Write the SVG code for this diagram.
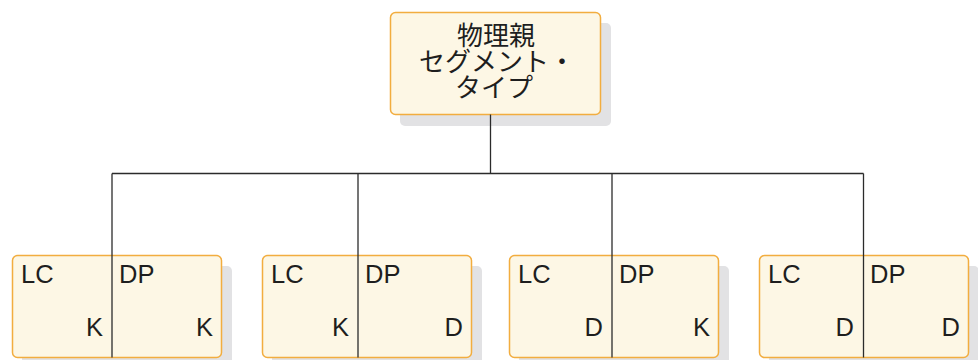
<svg xmlns="http://www.w3.org/2000/svg" width="978" height="360" viewBox="0 0 978 360">
<style>
.shadow{fill:#e2e2e4;}
.box{fill:#fdf7e5;stroke:#f2ad3f;stroke-width:1.5;}
.conn{stroke:#2b2b2b;stroke-width:1.3;fill:none;}
.t{font-family:"Liberation Sans",Arial,sans-serif;font-size:25.5px;fill:#1e1e1e;}
.j{font-family:"Noto Sans CJK JP","Liberation Sans",sans-serif;font-size:26px;fill:#1e1e1e;text-anchor:middle;}
.e{text-anchor:end;}
</style>
<rect width="978" height="360" fill="#ffffff"/>
<g id="parent">
<rect class="shadow" x="400" y="23" width="211" height="103" rx="5"/>
<rect class="box" x="390.5" y="12.5" width="210" height="102" rx="5"/>
<text class="j" x="496" y="45">物理親</text>
<text class="j" x="497" y="71">セグメント・</text>
<text class="j" x="494" y="97">タイプ</text>
</g>
<g id="child1">
<rect class="shadow" x="22" y="266" width="210" height="103" rx="5"/>
<rect class="box" x="12.5" y="255.5" width="209" height="102" rx="5"/>
<text class="t" x="21" y="282.5">LC</text>
<text class="t" x="119" y="282.5">DP</text>
<text class="t e" x="103" y="335.5">K</text>
<text class="t e" x="213" y="335.5">K</text>
</g>
<g id="child2">
<rect class="shadow" x="272" y="266" width="210" height="103" rx="5"/>
<rect class="box" x="262.5" y="255.5" width="209" height="102" rx="5"/>
<text class="t" x="271" y="282.5">LC</text>
<text class="t" x="365" y="282.5">DP</text>
<text class="t e" x="349" y="335.5">K</text>
<text class="t e" x="463" y="335.5">D</text>
</g>
<g id="child3">
<rect class="shadow" x="519" y="266" width="210" height="103" rx="5"/>
<rect class="box" x="509.5" y="255.5" width="209" height="102" rx="5"/>
<text class="t" x="518" y="282.5">LC</text>
<text class="t" x="619" y="282.5">DP</text>
<text class="t e" x="603" y="335.5">D</text>
<text class="t e" x="710" y="335.5">K</text>
</g>
<g id="child4">
<rect class="shadow" x="769" y="266" width="210" height="103" rx="5"/>
<rect class="box" x="759.5" y="255.5" width="209" height="102" rx="5"/>
<text class="t" x="768" y="282.5">LC</text>
<text class="t" x="870" y="282.5">DP</text>
<text class="t e" x="854" y="335.5">D</text>
<text class="t e" x="960" y="335.5">D</text>
</g>
<g id="connectors">
<path class="conn" d="M490.5 114.5 V173.5"/>
<path class="conn" d="M112 173.5 H863.5"/>
<path class="conn" d="M112 173.5 V357.5"/>
<path class="conn" d="M358 173.5 V357.5"/>
<path class="conn" d="M612 173.5 V357.5"/>
<path class="conn" d="M863.5 173.5 V357.5"/>
</g>
</svg>
